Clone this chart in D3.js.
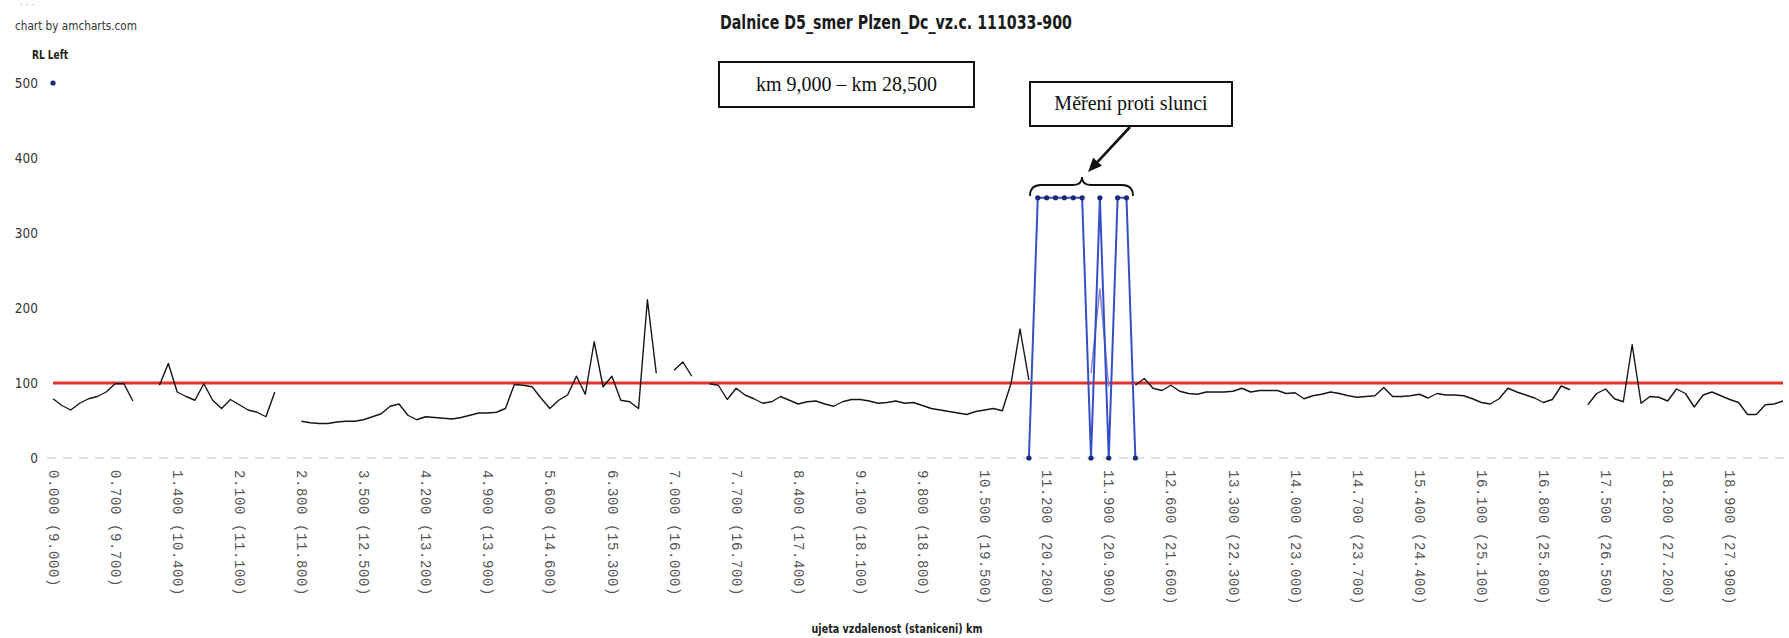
<!DOCTYPE html>
<html>
<head>
<meta charset="utf-8">
<script src="https://cdn.jsdelivr.net/npm/d3@7/dist/d3.min.js"></script>
<style>
  html, body { margin: 0; padding: 0; background: #fff; }
  svg { display: block; }
  .cond { font-family: "DejaVu Sans Condensed", "DejaVu Sans", sans-serif; font-stretch: condensed; }
</style>
</head>
<body>
<script>
var W = 1789, H = 638;

// one station every 100 m : km 0.000 .. 19.500 (9.000 .. 28.500)
var stations = d3.range(0, 196);

var tickIdx = [0, 7, 14, 21, 28, 35, 42, 49, 56, 63, 70, 77, 84, 91, 98, 105, 112, 119, 126,
               133, 140, 147, 154, 161, 168, 175, 182, 189];
var tickLabels = ["0.000 (9.000)", "0.700 (9.700)", "1.400 (10.400)", "2.100 (11.100)",
                  "2.800 (11.800)", "3.500 (12.500)", "4.200 (13.200)", "4.900 (13.900)",
                  "5.600 (14.600)", "6.300 (15.300)", "7.000 (16.000)", "7.700 (16.700)",
                  "8.400 (17.400)", "9.100 (18.100)", "9.800 (18.800)", "10.500 (19.500)",
                  "11.200 (20.200)", "11.900 (20.900)", "12.600 (21.600)", "13.300 (22.300)",
                  "14.000 (23.000)", "14.700 (23.700)", "15.400 (24.400)", "16.100 (25.100)",
                  "16.800 (25.800)", "17.500 (26.500)", "18.200 (27.200)", "18.900 (27.900)"];
var yTicks = [0, 100, 200, 300, 400, 500];

// RL Left - black series (null = no reading)
var rlLeft = [
  79, 70, 64, 73, 79, 82, 88, 99, 99, 76, null, null, 97, 126,
  88, 82, 77, 99, 77, 66, 78, 71, 64, 61, 55, 88, null, null,
  49, 47, 46, 46, 48, 49, 49, 51, 55, 59, 69, 72, 57, 51,
  55, 54, 53, 52, 54, 57, 60, 60, 61, 66, 98, 97, 95, 80,
  66, 77, 84, 109, 85, 155, 95, 109, 77, 75, 66, 211, 113, null,
  117, 128, 109, null, 99, 97, 78, 93, 84, 79, 73, 75, 82, 77,
  72, 75, 76, 72, 69, 75, 78, 78, 76, 73, 74, 76, 73, 74,
  70, 66, 64, 62, 60, 58, 62, 64, 66, 63, 100, 172, 104, null,
  null, null, null, null, null, null, null, null, null, null, 97, 106, 93, 90,
  97, 89, 86, 85, 88, 88, 88, 89, 93, 88, 90, 90, 90, 86,
  87, 79, 83, 85, 88, 86, 83, 81, 82, 83, 94, 82, 82, 83,
  85, 80, 86, 84, 84, 83, 79, 74, 72, 79, 93, 88, 84, 80,
  74, 78, 96, 91, null, 71, 86, 92, 79, 75, 151, 73, 82, 81,
  76, 92, 86, 68, 84, 88, 83, 78, 74, 58, 58, 71, 72, 76
];

// measurement against the sun - blue series
var sunIdx = [0, 110, 111, 112, 113, 114, 115, 116, 117, 118, 119, 120, 121, 122];
var sunVal = [500, 0, 347, 347, 347, 347, 347, 347, 0, 347, 0, 347, 347, 0];

// faint secondary trace inside the sun section
var echoIdx = [117, 118, 119];
var echoVal = [113, 226, 95];

var limitValue = 100;

var svg = d3.select("body").append("svg").attr("width", W).attr("height", H);

var x = d3.scalePoint().domain(stations).range([53, 1783]);
var y = d3.scaleLinear().domain([0, 500]).range([458, 83]);

function toSeries(idx, val) {
  var arr = stations.map(function() { return null; });
  idx.forEach(function(k, i) { arr[k] = val[i]; });
  return arr;
}
var sun = toSeries(sunIdx, sunVal);
var echo = toSeries(echoIdx, echoVal);

var line = d3.line()
  .defined(function(d) { return d != null; })
  .x(function(d, i) { return x(i); })
  .y(function(d) { return y(d); });

// top texts
svg.append("text").attr("x", 20).attr("y", 8).attr("font-size", 9).attr("fill", "#999")
  .attr("font-family", "DejaVu Sans").text("\u00b7 \u00b7 \u00b7");
svg.append("text").attr("class", "cond").attr("x", 15).attr("y", 30)
  .attr("font-size", 13).attr("fill", "#333")
  .attr("textLength", 122).attr("lengthAdjust", "spacingAndGlyphs")
  .text("chart by amcharts.com");
svg.append("text").attr("class", "cond").attr("x", 32).attr("y", 59)
  .attr("font-size", 11.5).attr("font-weight", "bold").attr("fill", "#222")
  .attr("textLength", 36).attr("lengthAdjust", "spacingAndGlyphs")
  .text("RL Left");
svg.append("text").attr("class", "cond").attr("x", 896).attr("y", 29)
  .attr("text-anchor", "middle").attr("font-size", 20).attr("font-weight", "bold").attr("fill", "#1a1a1a")
  .attr("textLength", 352).attr("lengthAdjust", "spacingAndGlyphs")
  .text("Dalnice D5_smer Plzen_Dc_vz.c. 111033-900");

// zero grid line
svg.append("line").attr("x1", 47).attr("x2", 1787).attr("y1", y(0)).attr("y2", y(0))
  .attr("stroke", "#d8d8d8").attr("stroke-width", 1.5).attr("stroke-dasharray", "9,7");

// y axis
var yAxis = svg.append("g").attr("transform", "translate(38,0)")
  .call(d3.axisLeft(y).tickValues(yTicks).tickSize(0).tickPadding(0));
yAxis.select(".domain").remove();
yAxis.selectAll("text").attr("class", "cond").attr("font-size", 13.5).attr("fill", "#333")
  .attr("font-family", null);

// x axis
var xAxis = svg.append("g").attr("transform", "translate(0,470)")
  .call(d3.axisBottom(x).tickValues(tickIdx)
    .tickFormat(function(d, i) { return tickLabels[i]; }).tickSize(0).tickPadding(0));
xAxis.select(".domain").remove();
xAxis.selectAll("text")
  .attr("x", 0).attr("y", 0).attr("dy", "0.35em")
  .attr("text-anchor", "start").attr("transform", "rotate(90)")
  .attr("font-family", "Liberation Mono, DejaVu Sans Mono, monospace")
  .attr("font-size", 14).attr("letter-spacing", 0.6).attr("fill", "#555");

svg.append("text").attr("class", "cond").attr("x", 897).attr("y", 633)
  .attr("text-anchor", "middle").attr("font-size", 13).attr("font-weight", "bold").attr("fill", "#222")
  .attr("textLength", 171).attr("lengthAdjust", "spacingAndGlyphs")
  .text("ujeta vzdalenost (staniceni) km");

// limit line
svg.append("path").datum(stations.map(function() { return limitValue; }))
  .attr("d", line).attr("fill", "none").attr("stroke", "#e8302a").attr("stroke-width", 3);

// RL Left
svg.append("path").datum(rlLeft).attr("d", line)
  .attr("fill", "none").attr("stroke", "#161616").attr("stroke-width", 1.4)
  .attr("stroke-linejoin", "round");

svg.append("path").datum(echo).attr("d", line)
  .attr("fill", "none").attr("stroke", "#8585d8").attr("stroke-width", 1.5);

// sun series
svg.append("path").datum(sun).attr("d", line)
  .attr("fill", "none").attr("stroke", "#3550c4").attr("stroke-width", 2)
  .attr("stroke-linejoin", "round");
svg.selectAll("circle.sun").data(sunIdx).enter().append("circle")
  .attr("class", "sun")
  .attr("cx", function(d) { return x(d); })
  .attr("cy", function(d) { return y(sun[d]); })
  .attr("r", 2.6).attr("fill", "#1b2878");

// annotations
svg.append("rect").attr("x", 719).attr("y", 62).attr("width", 255).attr("height", 45)
  .attr("fill", "#fff").attr("stroke", "#111").attr("stroke-width", 2);
svg.append("text").attr("x", 846.5).attr("y", 91).attr("text-anchor", "middle")
  .attr("font-family", "Liberation Serif, Times New Roman, serif").attr("font-size", 20).attr("fill", "#111")
  .text("km 9,000 \u2013 km 28,500");

svg.append("rect").attr("x", 1030).attr("y", 82).attr("width", 202).attr("height", 44)
  .attr("fill", "#fff").attr("stroke", "#111").attr("stroke-width", 2);
svg.append("text").attr("x", 1131).attr("y", 110).attr("text-anchor", "middle")
  .attr("font-family", "Liberation Serif, Times New Roman, serif").attr("font-size", 20).attr("fill", "#111")
  .text("M\u011b\u0159en\u00ed proti slunci");

// arrow
var ax1 = 1130, ay1 = 127, ax2 = 1088, ay2 = 172;
var ang = Math.atan2(ay2 - ay1, ax2 - ax1), hl = 14, hw = 6;
var bx = ax2 - hl * Math.cos(ang), by = ay2 - hl * Math.sin(ang);
svg.append("line").attr("x1", ax1).attr("y1", ay1).attr("x2", bx).attr("y2", by)
  .attr("stroke", "#111").attr("stroke-width", 2.6);
svg.append("path")
  .attr("d", "M" + ax2 + "," + ay2 +
    "L" + (bx + hw * Math.sin(ang)) + "," + (by - hw * Math.cos(ang)) +
    "L" + (bx - hw * Math.sin(ang)) + "," + (by + hw * Math.cos(ang)) + "Z")
  .attr("fill", "#111");

// curly brace over the sun section
svg.append("path")
  .attr("d", "M1030,196 Q1030,185 1041,185 L1073,185 Q1082,185 1082,177 Q1082,185 1091,185 L1122,185 Q1133,185 1133,196")
  .attr("fill", "none").attr("stroke", "#111").attr("stroke-width", 1.8);
</script>
</body>
</html>
